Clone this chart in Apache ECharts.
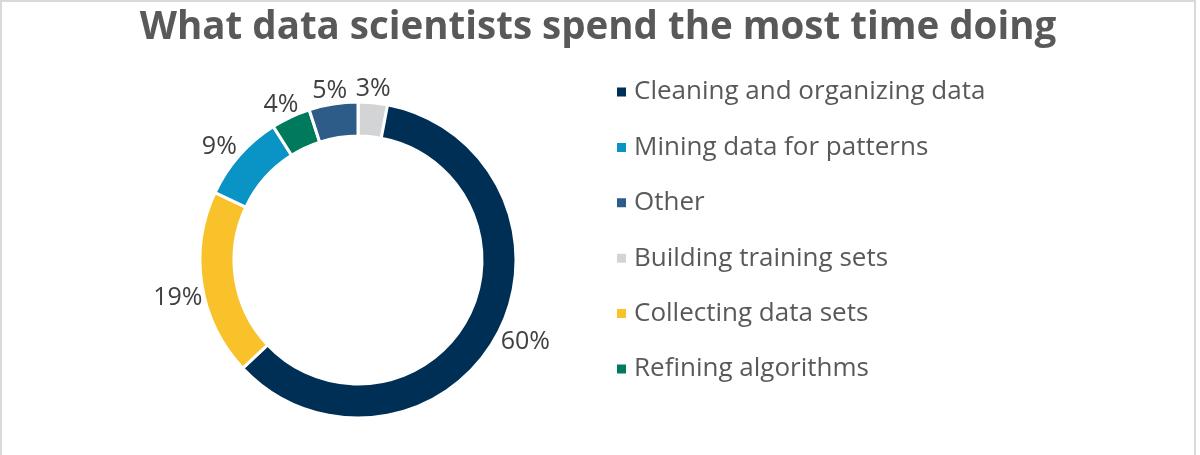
<!DOCTYPE html>
<html>
<head>
<meta charset="utf-8">
<script src="https://cdn.jsdelivr.net/npm/echarts@6/dist/echarts.min.js"></script>
<style>
html,body{margin:0;padding:0;background:#fff;}
#wrap{width:1196px;height:455px;border-left:2px solid #d9d9d9;border-right:2px solid #d9d9d9;border-top:2px solid #d9d9d9;box-sizing:border-box;}
#chart{width:1196px;height:453px;margin-left:-2px;}
</style>
</head>
<body>
<div id="wrap"><div id="chart"></div></div>
<script>
// Slice order (clockwise from 12 o'clock)
const categories = ["Building training sets","Cleaning and organizing data","Collecting data sets","Mining data for patterns","Refining algorithms","Other"];
const values = [3, 60, 19, 9, 4, 5];
const colors = ["#D3D4D6","#002F56","#F9C22A","#0A93C5","#007A5C","#2C5C87"];
// Legend order as shown
const legendOrder = ["Cleaning and organizing data","Mining data for patterns","Other","Building training sets","Collecting data sets","Refining algorithms"];

const CENTER = [358, 258];
const RADIUS = [124, 158];
const total = values.reduce((a,b)=>a+b,0);
const midAngles = [];
{ let cum = 0; values.forEach(v=>{ midAngles.push((cum + v/2)/total*2*Math.PI); cum += v; }); }

const chart = echarts.init(document.getElementById('chart'));
chart.setOption({
  animation:false,
  title:{
    text:"What data scientists spend the most time doing",
    left:'center', top:2,
    textStyle:{fontFamily:'Open Sans', fontWeight:'bold', fontSize:38.5, color:'#595959'}
  },
  legend:{
    orient:'vertical', left:610, top:70,
    data:legendOrder,
    icon:'rect', itemWidth:11, itemHeight:11, itemGap:25.4,
    textStyle:{fontFamily:'Open Sans', fontSize:26, color:'#595959', lineHeight:30, padding:[0,0,0,2]}
  },
  series:[{
    type:'pie',
    center:CENTER,
    radius:RADIUS,
    startAngle:90,
    clockwise:true,
    data:categories.map((c,i)=>({name:c, value:values[i], itemStyle:{color:colors[i]}})),
    itemStyle:{borderColor:'#fff', borderWidth:3},
    label:{show:true, position:'outside', formatter:'{c}%', fontFamily:'Open Sans', fontSize:25, color:'#404040'},
    labelLine:{show:false, length:4, length2:0},
    labelLayout:function(p){
      let a = midAngles[p.dataIndex];
      a -= 3*Math.PI/180*Math.abs(Math.sin(a));
      const dx = Math.sin(a), dy = -Math.cos(a);
      const w = p.labelRect.width, h = p.labelRect.height;
      const ex = Math.abs(dx) > 1e-6 ? (w/2)/Math.abs(dx) : Infinity;
      const ey = Math.abs(dy) > 1e-6 ? (h/2)/Math.abs(dy) : Infinity;
      const r = RADIUS[1] + Math.min(ex, ey) + 1;
      return {x: CENTER[0] + dx*r, y: CENTER[1] + dy*r, align:'center', verticalAlign:'middle'};
    },
    emphasis:{disabled:true}
  }]
});
</script>
</body>
</html>
